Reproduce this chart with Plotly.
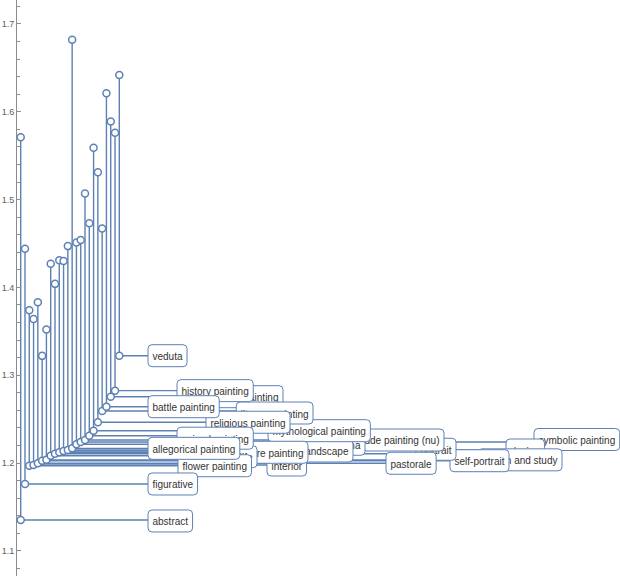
import plotly.graph_objects as go

# ---------------- data ----------------
genres = ["abstract", "figurative", "flower painting", "interior", "pastorale",
          "self-portrait", "sketch and study", "still life", "portrait", "genre painting",
          "landscape", "design", "allegorical painting", "marina", "symbolic painting",
          "nude painting (nu)", "animal painting", "mythological painting", "religious painting",
          "literary painting", "battle painting", "wildlife painting", "history painting", "veduta"]
upper_values = [1.571, 1.444, 1.374, 1.364, 1.383, 1.322, 1.352, 1.427, 1.404, 1.431,
                1.430, 1.447, 1.682, 1.451, 1.454, 1.507, 1.473, 1.559, 1.531, 1.467,
                1.621, 1.589, 1.576, 1.642]
lower_values = [1.1351, 1.1761, 1.1969, 1.1977, 1.1997, 1.2026, 1.2036, 1.2083, 1.2105, 1.2122,
                1.2137, 1.2148, 1.2167, 1.2213, 1.2239, 1.2262, 1.2311, 1.2368, 1.2464, 1.2592,
                1.2641, 1.2755, 1.2824, 1.3222]
y_ticks = [1.1, 1.2, 1.3, 1.4, 1.5, 1.6, 1.7]

# ---------------- layout of callout labels (pixel positions) ----------------
label_anchor = {
    "abstract": (148, "left"), "figurative": (148, "left"), "flower painting": (178, "left"),
    "interior": (267, "left"), "pastorale": (386, "left"), "self-portrait": (450, "left"),
    "sketch and study": (562, "right"), "still life": (257, "right"), "portrait": (456, "right"),
    "genre painting": (308, "right"), "landscape": (353, "right"), "design": (506, "left"),
    "allegorical painting": (148, "left"), "marina": (365, "right"),
    "symbolic painting": (534, "left"), "nude painting (nu)": (444, "right"),
    "animal painting": (177, "left"), "mythological painting": (268, "left"),
    "religious painting": (290, "right"), "literary painting": (313, "right"),
    "battle painting": (148, "left"), "wildlife painting": (283, "right"),
    "history painting": (177, "left"), "veduta": (148, "left"),
}
# vertical shift of label boxes in pixels (positive = down)
label_dy = {"portrait": -4.5, "symbolic painting": -2.5, "still life": 1.0, "abstract": 1.0,
            "literary painting": 2.0, "animal painting": 2.5}
draw_order = ["symbolic painting", "design", "sketch and study", "self-portrait", "portrait",
              "nude painting (nu)", "pastorale", "marina", "landscape", "mythological painting",
              "interior", "genre painting", "still life", "wildlife painting", "literary painting",
              "religious painting", "history painting", "battle painting", "animal painting",
              "flower painting", "allegorical painting", "figurative", "abstract", "veduta"]

BLUE = "#5E81B5"
W, H = 620, 576
L_MARGIN = 17
X_RANGE = [0.137, 140.79]
Y_RANGE = [1.0713, 1.7273]
FONT_PX = 10

ARIAL = {'a': 556, 'b': 556, 'c': 500, 'd': 556, 'e': 556, 'f': 278, 'g': 556, 'h': 556, 'i': 222,
         'j': 222, 'k': 500, 'l': 222, 'm': 833, 'n': 556, 'o': 556, 'p': 556, 'q': 556, 'r': 333,
         's': 500, 't': 278, 'u': 556, 'v': 500, 'w': 722, 'x': 500, 'y': 500, 'z': 500, ' ': 278,
         '(': 333, ')': 333, '-': 333}


def text_w(s):
    return sum(ARIAL.get(c, 556) for c in s) * FONT_PX / 1000.0


def px2x(px):
    return X_RANGE[0] + (px - L_MARGIN) / (W - L_MARGIN) * (X_RANGE[1] - X_RANGE[0])


xs = list(range(1, len(genres) + 1))

lx, ly = [], []
box_info = {}
for i, g in enumerate(genres):
    ax_px, side = label_anchor[g]
    bw = text_w(g) + 9
    left_px = ax_px if side == "left" else ax_px - bw
    box_info[g] = (left_px, bw, lower_values[i])
    lx += [xs[i], xs[i], px2x(left_px + 2), None]
    ly += [upper_values[i], lower_values[i], lower_values[i], None]

fig = go.Figure()
fig.add_trace(go.Scatter(x=lx, y=ly, mode="lines", line=dict(color=BLUE, width=1.4),
                         hoverinfo="skip", showlegend=False))
fig.add_trace(go.Scatter(x=xs, y=lower_values, mode="markers",
                         marker=dict(size=7, color="white", line=dict(color=BLUE, width=1.5)),
                         showlegend=False))
fig.add_trace(go.Scatter(x=xs, y=upper_values, mode="markers",
                         marker=dict(size=7, color="white", line=dict(color=BLUE, width=1.5)),
                         showlegend=False))

shapes = []
r = 4
h2 = 11
for g in draw_order:
    left_px, bw, yv = box_info[g]
    dy = label_dy.get(g, 0.0)
    w = bw
    yc = -dy  # pixel offsets positive up
    t, b = yc + h2, yc - h2
    path = (f"M {r},{b} L {w - r},{b} Q {w},{b} {w},{b + r} L {w},{t - r} Q {w},{t} {w - r},{t} "
            f"L {r},{t} Q 0,{t} 0,{t - r} L 0,{b + r} Q 0,{b} {r},{b} Z")
    shapes.append(dict(type="path", xref="x", yref="y", xsizemode="pixel", ysizemode="pixel",
                       xanchor=px2x(left_px), yanchor=yv, path=path, fillcolor="white",
                       line=dict(color=BLUE, width=1), layer="above",
                       label=dict(text=g, textposition="middle center",
                                  font=dict(family="Liberation Sans, Arial", size=FONT_PX,
                                            color="#333333"))))

fig.update_layout(
    width=W, height=H, margin=dict(l=L_MARGIN, r=0, t=0, b=0),
    paper_bgcolor="white", plot_bgcolor="white", shapes=shapes,
    xaxis=dict(visible=False, range=X_RANGE, fixedrange=True),
    yaxis=dict(range=Y_RANGE, showgrid=False, zeroline=False, showline=True,
               linecolor="#8c8c8c", linewidth=1, ticks="inside", ticklen=4, tickcolor="#8c8c8c",
               tickvals=y_ticks, ticktext=[f"{v:.1f}" for v in y_ticks],
               tickfont=dict(family="Liberation Sans, Arial", size=9, color="#606060"),
               minor=dict(dtick=0.02, tick0=1.0, ticks="inside", ticklen=2.5, tickcolor="#8c8c8c",
                          showgrid=False)),
)
fig.write_html("out.html")
